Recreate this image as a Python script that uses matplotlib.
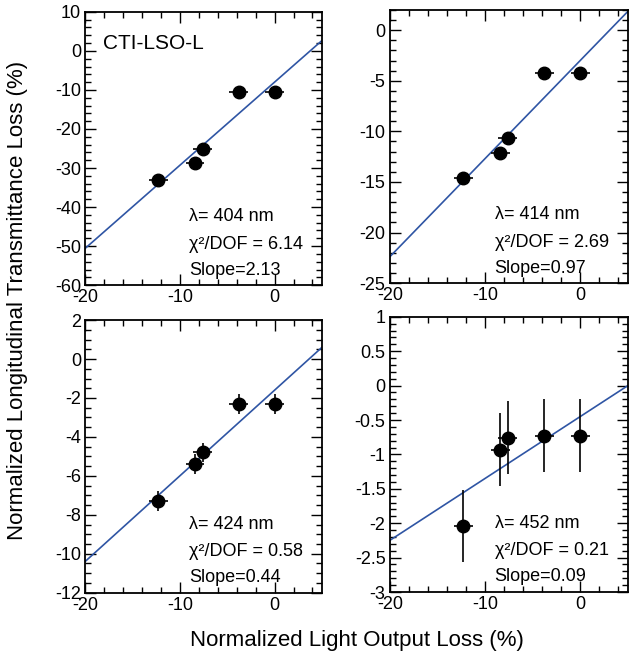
import matplotlib
matplotlib.use("Agg")
import matplotlib.pyplot as plt
from matplotlib.ticker import MultipleLocator, FuncFormatter

plt.rcParams["font.family"] = ["Liberation Sans", "DejaVu Sans"]
plt.rcParams["axes.unicode_minus"] = False

# Perdida de luz normalizada (%), igual para las cuatro longitudes de onda
luz = [-12.3, -8.4, -7.6, -3.8, 0.0]
luz_err = [1.0, 1.0, 1.0, 1.0, 1.0]

# Perdida de transmitancia longitudinal (%) por longitud de onda
trans_404 = [-33.0, -28.8, -25.0, -10.4, -10.4]
trans_414 = [-14.6, -12.1, -10.7, -4.25, -4.25]
trans_424 = [-7.3, -5.4, -4.8, -2.3, -2.3]
trans_452 = [-2.04, -0.93, -0.76, -0.73, -0.73]

err_404 = [1.0, 1.0, 1.0, 1.0, 1.0]
err_414 = [0.4, 0.4, 0.4, 0.4, 0.4]
err_424 = [0.5, 0.5, 0.5, 0.5, 0.5]
err_452 = [0.52, 0.53, 0.53, 0.53, 0.53]

# Rectas de ajuste: pendiente y ordenada en el origen
pendientes = [2.13, 0.97, 0.44, 0.09]
ordenadas = [-8.0, -3.0, -1.6, -0.45]

longitudes = [404, 414, 424, 452]
chi2 = ["6.14", "2.69", "0.58", "0.21"]

limites_y = [(-60, 10), (-25, 2), (-12, 2), (-3, 1)]
mayor_y = [10, 5, 2, 0.5]
menor_y = [2, 1, 0.5, 0.1]

posiciones = [
    [0.133, 0.568, 0.370, 0.414],
    [0.609, 0.571, 0.372, 0.414],
    [0.133, 0.102, 0.370, 0.413],
    [0.609, 0.103, 0.372, 0.417],
]

datos = [trans_404, trans_414, trans_424, trans_452]
errores = [err_404, err_414, err_424, err_452]

formato = FuncFormatter(lambda v, pos: "%g" % round(v, 3))

fig = plt.figure(figsize=(6.4, 6.6), dpi=100)

for i in range(4):
    ax = fig.add_axes(posiciones[i])
    ax.errorbar(luz, datos[i], xerr=luz_err, yerr=errores[i], fmt="o",
                color="black", markersize=9, elinewidth=1.2, capsize=0,
                zorder=3)
    a = pendientes[i]
    b = ordenadas[i]
    ax.axline((0, b), (1, a + b), color="#2f55a4", linewidth=1.2, zorder=2)

    ax.set_xlim(-20, 5)
    ax.set_ylim(*limites_y[i])
    ax.xaxis.set_major_locator(MultipleLocator(10))
    ax.xaxis.set_minor_locator(MultipleLocator(2))
    ax.yaxis.set_major_locator(MultipleLocator(mayor_y[i]))
    ax.yaxis.set_minor_locator(MultipleLocator(menor_y[i]))
    ax.xaxis.set_major_formatter(formato)
    ax.yaxis.set_major_formatter(formato)
    ax.tick_params(which="both", direction="in", top=True, right=True,
                   labelsize=13, width=1.0, pad=3)
    ax.tick_params(which="major", length=8)
    ax.tick_params(which="minor", length=4)
    for s in ax.spines.values():
        s.set_linewidth(1.3)

    ax.text(0.44, 0.25, "λ= %d nm" % longitudes[i], transform=ax.transAxes,
            fontsize=13, va="center")
    ax.text(0.44, 0.15, "χ²/DOF = " + chi2[i], transform=ax.transAxes,
            fontsize=13, va="center")
    ax.text(0.44, 0.055, "Slope=%.2f" % pendientes[i], transform=ax.transAxes,
            fontsize=13, va="center")

    if i == 0:
        ax.text(0.076, 0.886, "CTI-LSO-L", transform=ax.transAxes,
                fontsize=15, va="center")

fig.text(0.028, 0.545, "Normalized Longitudinal Transmittance Loss (%)",
         rotation=90, ha="center", va="center", fontsize=16)
fig.text(0.558, 0.03, "Normalized Light Output Loss (%)",
         ha="center", va="center", fontsize=16)

fig.savefig("out.png", dpi=100)
